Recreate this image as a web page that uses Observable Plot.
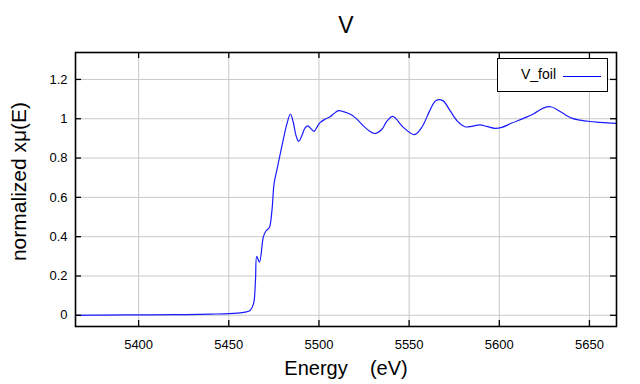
<!DOCTYPE html>
<html><head><meta charset="utf-8">
<script src="https://cdn.jsdelivr.net/npm/d3@7"></script>
<script src="https://cdn.jsdelivr.net/npm/@observablehq/plot@0.6"></script>
<style>
html,body{margin:0;padding:0;background:#fff;}
#wrap{position:relative;width:640px;height:384px;font-family:"Liberation Sans",Arial,sans-serif;}
#legend{position:absolute;left:497px;top:58px;width:109px;height:32px;border:1.5px solid #000;background:#fff;box-sizing:content-box;}
#legend span{position:absolute;left:23px;top:7px;font-size:14px;color:#000;}
#legend i{position:absolute;left:65px;top:17px;width:38px;height:0;border-top:1.3px solid #0000ff;}
</style>
</head><body>
<div id="wrap"><div id="legend"><span>V_foil</span><i></i></div></div>
<script>
const title = "V";
const xLabel = "Energy    (eV)";
const yLabel = "normalized xμ(E)";
const seriesName = "V_foil";
const xTicks = [5400, 5450, 5500, 5550, 5600, 5650];
const yTicks = [0, 0.2, 0.4, 0.6, 0.8, 1, 1.2];
const energy = [5365,5380,5400,5420,5440,5450,5455,5459,5461.8,5463.7,5464.8,5465.5,5467,5469.2,5470.7,5472.5,5473.9,5475.1,5476.6,5478.5,5480.3,5482.2,5484.2,5485.8,5487.3,5488.8,5490.5,5492.3,5493.8,5495.7,5497.3,5498.8,5500.6,5503.4,5506.2,5508,5510.8,5513.6,5518.2,5521,5524.6,5528.4,5531.1,5534.8,5537.5,5540.9,5546.8,5552.9,5557,5561.6,5564.8,5568.7,5572.7,5577,5581,5584.7,5589.3,5593,5597.7,5601.4,5606.9,5613.4,5618.9,5624.4,5628.5,5633.7,5640.2,5644.8,5650.3,5656,5665];
const mu = [0.0,0.001,0.002,0.003,0.006,0.008,0.011,0.016,0.024,0.058,0.176,0.30,0.27,0.40,0.43,0.447,0.53,0.668,0.736,0.82,0.897,0.973,1.024,0.981,0.914,0.885,0.914,0.953,0.964,0.948,0.936,0.956,0.98,0.998,1.01,1.024,1.041,1.036,1.019,0.998,0.964,0.935,0.925,0.945,0.985,1.012,0.956,0.919,0.956,1.044,1.092,1.092,1.041,0.985,0.959,0.961,0.969,0.961,0.951,0.956,0.978,1.002,1.024,1.054,1.061,1.037,1.003,0.993,0.986,0.982,0.976];

const data = energy.map((e, i) => ({e, v: mu[i]}));
const W = 640, H = 384, mL = 75, mR = 24, mT = 52, mB = 58;
const fw = W - mL - mR, fh = H - mT - mB, tk = 6;

const chart = Plot.plot({
  width: W, height: H,
  marginLeft: mL, marginRight: mR, marginTop: mT, marginBottom: mB,
  style: {fontFamily: '"Liberation Sans", Arial, sans-serif', fontSize: "13px", color: "#000", background: "transparent"},
  x: {domain: [5365, 5665], ticks: xTicks, label: null},
  y: {domain: [-0.057, 1.337], ticks: yTicks, label: null},
  marks: [
    Plot.gridX(xTicks, {stroke: "#c8c8c8", strokeOpacity: 1}),
    Plot.gridY(yTicks, {stroke: "#c8c8c8", strokeOpacity: 1}),
    Plot.line(data, {x: "e", y: "v", stroke: "#1a1aff", strokeWidth: 1.2, curve: "catmull-rom"}),
    Plot.tickX(xTicks, {x: d => d, insetTop: fh - tk, stroke: "#000", strokeWidth: 1.3}),
    Plot.tickX(xTicks, {x: d => d, insetBottom: fh - tk, stroke: "#000", strokeWidth: 1.3}),
    Plot.tickY(yTicks, {y: d => d, insetRight: fw - tk, stroke: "#000", strokeWidth: 1.3}),
    Plot.tickY(yTicks, {y: d => d, insetLeft: fw - tk, stroke: "#000", strokeWidth: 1.3}),
    Plot.axisX(xTicks, {tickSize: 0, tickPadding: 13, fontSize: 13, label: null, tickFormat: d => String(d)}),
    Plot.axisY(yTicks, {tickSize: 0, tickPadding: 8, fontSize: 13, label: null, tickFormat: d => String(d)}),
    Plot.frame({stroke: "#000", strokeWidth: 1.6}),
    Plot.text([title], {frameAnchor: "top", lineAnchor: "bottom", dy: -20, fontSize: 23, fill: "#000"}),
    Plot.text([xLabel], {frameAnchor: "bottom", lineAnchor: "bottom", dy: 48, fontSize: 20, fill: "#000"}),
    Plot.text([yLabel], {frameAnchor: "left", textAnchor: "middle", lineAnchor: "bottom", dx: -50, dy: -8, rotate: -90, fontSize: 21, fill: "#000"})
  ]
});
document.getElementById("wrap").prepend(chart);
</script>
</body></html>
